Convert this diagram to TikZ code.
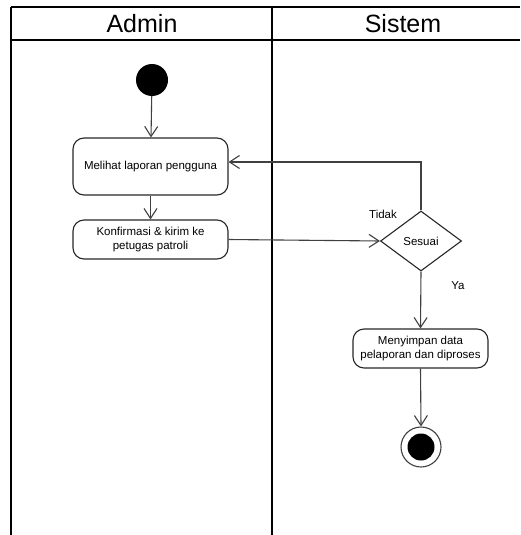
\documentclass[tikz,border=0pt]{standalone}
\usepackage{fontspec}
\setmainfont{Liberation Sans}
\usetikzlibrary{arrows.meta,shapes.geometric}
\tikzset{
  lane/.style={line width=2pt, black},
  conn/.style={line width=1.1pt, draw=black!75, -{Straight Barb[length=10pt,width=13pt,line width=1.1pt]}},
  act/.style={draw=black!85, line width=1.1pt, rounded corners=11pt, inner sep=0pt, align=center, font=\fontsize{11.5}{13.5}\selectfont},
  dec/.style={diamond, draw=black!85, line width=1.1pt, inner sep=0pt, minimum width=81pt, minimum height=60pt, font=\fontsize{11.5}{13.5}\selectfont},
  lbl/.style={font=\fontsize{11.5}{13.5}\selectfont, inner sep=0pt},
  hdr/.style={font=\fontsize{25}{28}\selectfont, inner sep=0pt}
}
\begin{document}
\begin{tikzpicture}[x=1pt,y=-1pt]
\useasboundingbox (0,0) rectangle (520,535);
% swimlane frame
\draw[lane] (11,7.5) -- (520,7.5);
\draw[lane] (11,40) -- (520,40);
\draw[lane] (11,7.5) -- (11,535);
\draw[lane] (271.5,7.5) -- (271.5,535);
\node[hdr] (hA) at (142,24) {Admin};
\node[hdr] (hS) at (403,24) {Sistem};
% nodes
\node[circle, fill=black, minimum size=32pt, inner sep=0pt] (start) at (152,80) {};
\node[act, minimum width=155pt, minimum height=57pt] (b1) at (150.5,166.5) {Melihat laporan pengguna};
\node[act, minimum width=155pt, minimum height=39pt] (b2) at (150.5,239.5) {Konfirmasi \& kirim ke\\petugas patroli};
\node[dec] (d) at (421,241) {Sesuai};
\node[act, minimum width=135pt, minimum height=39pt] (b3) at (420.5,348.5) {Menyimpan data\\pelaporan dan diproses};
\node[circle, draw=black!75, line width=1.1pt, minimum size=40pt, inner sep=0pt] (endo) at (421,447) {};
\node[circle, fill=black, minimum size=27pt, inner sep=0pt] (endi) at (421,447) {};
% labels
\node[lbl] (tidak) at (383,214) {Tidak};
\node[lbl] (ya) at (458,286) {Ya};
% connectors
\draw[conn] (start) -- (b1);
\draw[conn] (b1) -- (b2);
\draw[conn] (b2.east) -- (d.west);
\draw[conn] (d.north) |- ([yshift=4.5pt]b1.east);
\draw[conn] (d.south) -- (b3.north);
\draw[conn] (b3.south) -- (endo.north);
\end{tikzpicture}
\end{document}
